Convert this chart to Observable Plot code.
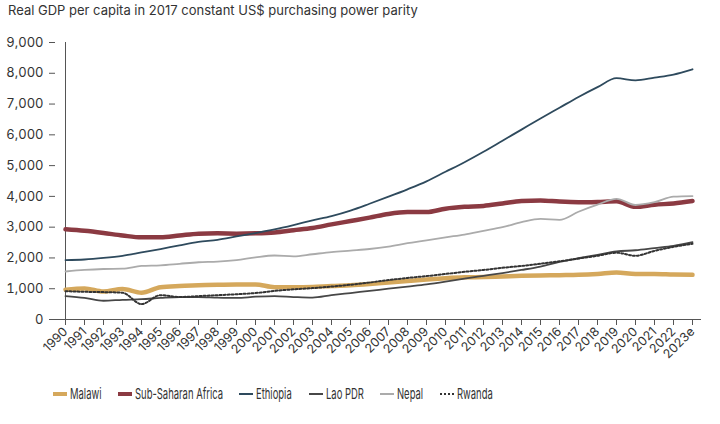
<!DOCTYPE html>
<html>
<head>
<meta charset="utf-8">
<script src="https://cdn.jsdelivr.net/npm/d3@7"></script>
<script src="https://cdn.jsdelivr.net/npm/@observablehq/plot@0.6"></script>
<style>
  html, body { margin: 0; padding: 0; background: #fff; }
  #wrap { position: relative; width: 720px; height: 424px; font-family: Inter, "Noto Sans", sans-serif; color: #333; }
  #title { position: absolute; left: 8px; top: 2px; font-size: 13px; color: #333; white-space: nowrap; }
  #chart { position: absolute; left: 0; top: 0; }
  #legend { position: absolute; left: 53px; top: 384px; display: flex; align-items: center; font-family: Inter, sans-serif; font-size: 15px; color: #333; white-space: nowrap; }
  .item { display: flex; align-items: center; margin-right: 16.5px; }
  .sw { width: 14px; margin-right: 3px; }
  .lbl { display: inline-block; overflow: visible; }
  .lbl span { display: inline-block; transform-origin: 0 50%; }
</style>
</head>
<body>
<div id="wrap">
  <div id="chart"></div>
  <div id="title">Real GDP per capita in 2017 constant US$ purchasing power parity</div>
  <div id="legend"></div>
</div>
<script>
const years = ["1990","1991","1992","1993","1994","1995","1996","1997","1998","1999","2000","2001","2002","2003","2004","2005","2006","2007","2008","2009","2010","2011","2012","2013","2014","2015","2016","2017","2018","2019","2020","2021","2022","2023e"];
const yTicks = [0,1000,2000,3000,4000,5000,6000,7000,8000,9000];
const seriesNames = ["Malawi","Sub-Saharan Africa","Ethiopia","Lao PDR","Nepal","Rwanda"];
const malawi = [970,1010,910,990,870,1050,1090,1110,1130,1140,1140,1050,1050,1060,1090,1110,1150,1200,1250,1300,1340,1370,1380,1400,1420,1430,1440,1450,1480,1530,1480,1480,1460,1450];
const ssa = [2930,2880,2810,2730,2670,2670,2730,2790,2800,2790,2800,2830,2900,2970,3090,3200,3310,3430,3490,3490,3600,3660,3690,3770,3850,3870,3830,3810,3820,3840,3660,3730,3770,3850];
const ethiopia = [1930,1950,2000,2070,2180,2290,2410,2520,2590,2700,2810,2930,3070,3220,3360,3540,3760,3990,4230,4490,4800,5110,5450,5810,6170,6530,6880,7230,7550,7840,7770,7860,7960,8130];
const lao = [760,700,610,640,660,700,730,730,710,700,740,760,730,710,790,860,930,1000,1070,1140,1230,1330,1420,1510,1610,1720,1870,1990,2100,2210,2250,2320,2390,2510];
const nepal = [1560,1610,1640,1650,1740,1760,1810,1860,1880,1930,2020,2080,2050,2120,2190,2240,2290,2370,2480,2570,2670,2760,2880,3000,3160,3270,3240,3500,3730,3920,3720,3810,3990,4010];
const rwanda = [920,900,890,870,500,790,730,760,790,820,860,930,980,1020,1070,1130,1200,1280,1350,1410,1480,1550,1610,1680,1740,1810,1890,1980,2070,2170,2070,2230,2360,2460];

const colors = {"Malawi":"#d5a85c","Sub-Saharan Africa":"#8b3a42","Ethiopia":"#2e4a5d","Lao PDR":"#474747","Nepal":"#ababab","Rwanda":"#333333"};
const widths = {"Malawi":4.5,"Sub-Saharan Africa":4.5,"Ethiopia":1.8,"Lao PDR":1.8,"Nepal":1.8,"Rwanda":2};
const dashes = {"Rwanda":"2,2"};

const valuesBy = {"Malawi":malawi,"Sub-Saharan Africa":ssa,"Ethiopia":ethiopia,"Lao PDR":lao,"Nepal":nepal,"Rwanda":rwanda};
const table = s => years.map((y,i) => ({year:y, value:valuesBy[s][i], series:s}));
const drawOrder = ["Sub-Saharan Africa","Malawi","Ethiopia","Lao PDR","Nepal","Rwanda"];

const chart = Plot.plot({
  width: 720,
  height: 370,
  marginLeft: 55,
  marginRight: 19,
  marginTop: 42,
  marginBottom: 51,
  style: {fontFamily: "Inter, 'Noto Sans', sans-serif", fontSize: "13px", color: "#333", background: "transparent"},
  x: {type: "point", domain: years, padding: 0},
  y: {domain: [0, 9000]},
  marks: [
    Plot.axisY({ticks: yTicks, tickFormat: d => d3.format(",")(d), tickSize: 6, tickPadding: 6, label: null, stroke: "#555", fontSize: 13}),
    Plot.axisX({ticks: years, tickRotate: -45, tickSize: 6, tickPadding: 4, label: null, stroke: "#555", fontSize: 12.5}),
    Plot.ruleY([0], {stroke: "#555"}),
    Plot.ruleX([years[0]], {y1: 0, y2: 9000, stroke: "#555"}),
    ...drawOrder.map(s => Plot.line(table(s), {
      x: "year", y: "value", stroke: colors[s], strokeWidth: widths[s],
      strokeDasharray: dashes[s] || null, curve: "monotone-x"
    }))
  ]
});
document.getElementById("chart").appendChild(chart);

const legend = document.getElementById("legend");
const squeeze = 0.63;
for (const s of seriesNames) {
  const item = document.createElement("div");
  item.className = "item";
  const sw = document.createElement("div");
  sw.className = "sw";
  const w = s === "Malawi" || s === "Sub-Saharan Africa" ? 4 : 2;
  if (dashes[s]) {
    sw.style.borderTop = w + "px dotted " + colors[s];
  } else {
    sw.style.height = w + "px";
    sw.style.background = colors[s];
  }
  const lbl = document.createElement("div");
  lbl.className = "lbl";
  const t = document.createElement("span");
  t.textContent = s;
  lbl.appendChild(t);
  item.appendChild(sw);
  item.appendChild(lbl);
  legend.appendChild(item);
  const tw = t.getBoundingClientRect().width;
  t.style.transform = "scaleX(" + squeeze + ")";
  lbl.style.width = (tw * squeeze) + "px";
}
</script>
</body>
</html>
